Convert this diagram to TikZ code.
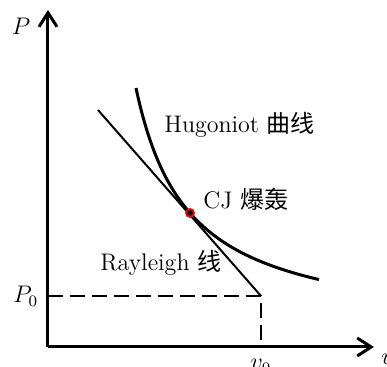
\documentclass[tikz,border=0pt]{standalone}
\usepackage{fontspec}
\newfontfamily\cjk{Noto Sans CJK SC}
\usetikzlibrary{arrows.meta}
\begin{document}
\begin{tikzpicture}[x=0.5pt,y=-0.5pt,
  axis/.style={line width=1.5pt,-{Straight Barb[length=7pt,width=9pt,line width=1.5pt]}},
  dashline/.style={line width=1pt,dash pattern=on 7.5pt off 3.5pt},
  lbl/.style={font=\large,inner sep=0pt}]
\useasboundingbox (0,0) rectangle (387,367);
\coordinate (O) at (48,347);
\coordinate (Ytop) at (48,10);
\coordinate (Xend) at (374,347);
\coordinate (A) at (261,296);
\coordinate (Ay) at (48,296);
\coordinate (Ax) at (261,347);
\coordinate (R1) at (98,110);
\coordinate (CJ) at (190,213);
\draw[dashline] (Ay) -- (A) -- (Ax);
\draw[axis] (O) -- (Ytop);
\draw[axis] (O) -- (Xend);
\draw[line width=1pt] (R1) -- (A);
\draw[line width=1.5pt] plot[domain=136:319,samples=80,smooth] (\x,{334.5-12940/(\x-83.5)});
\node[circle,draw=red,fill=black,line width=0.9pt,minimum size=4pt,inner sep=0pt] (cjp) at (CJ) {};
\node[lbl,anchor=base] (lP) at (21,35) {$P$};
\node[lbl,anchor=base west] (lP0) at (13,303) {$P_0$};
\node[lbl,anchor=base] (lv0) at (261,370) {$v_0$};
\node[lbl,anchor=base west] (lv) at (381,365) {$v$};
\node[lbl,anchor=base west] (lH) at (164,133) {Hugoniot {\cjk 曲线}};
\node[lbl,anchor=base west] (lCJ) at (203,209) {CJ {\cjk 爆轰}};
\node[lbl,anchor=base west] (lR) at (100,271) {Rayleigh {\cjk 线}};
\end{tikzpicture}
\end{document}
